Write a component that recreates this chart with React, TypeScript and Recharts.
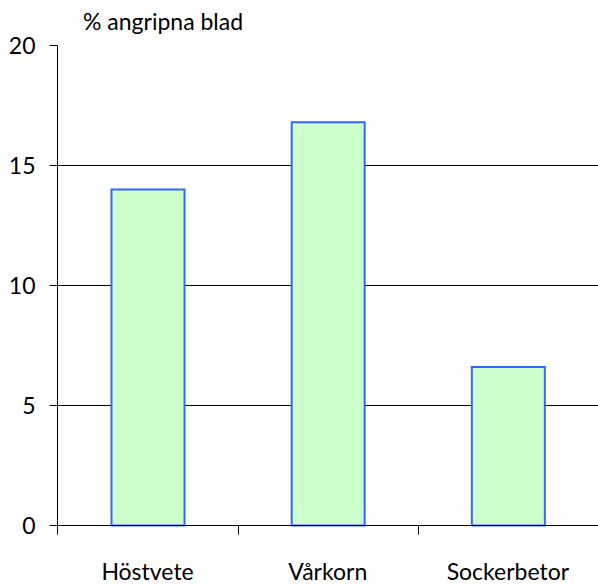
import React from "react";
import { BarChart, Bar, XAxis, YAxis, CartesianGrid } from "recharts";

const categories = ["Höstvete", "Vårkorn", "Sockerbetor"];
const values = [14, 16.8, 6.6];
const yTicks = [0, 5, 10, 15, 20];
const gridValues = [5, 10, 15];
const yTitle = "% angripna blad";

const data = categories.map((c, i) => ({ name: c, value: values[i] }));

const FONT = "Lato, 'Open Sans', sans-serif";

const CategoryTick = (props: any) => {
  const { x, y, payload, width, visibleTicksCount } = props;
  const half =
    payload && typeof payload.offset === "number" && payload.offset > 0
      ? payload.offset
      : width / (visibleTicksCount || 1) / 2;
  const bx = Math.round(x - half) + 0.5;
  return (
    <g>
      <line x1={bx} x2={bx} y1={y} y2={y + 9} stroke="#000" strokeWidth={1} />
      <text
        x={x}
        y={y + 38}
        dy="0.71em"
        textAnchor="middle"
        fill="#000"
        fontSize={23}
        fontFamily={FONT}
      >
        {payload.value}
      </text>
    </g>
  );
};

export default function App() {
  return (
    <div style={{ position: "absolute", left: 0, top: 0, width: 598, height: 584, background: "#fff" }}>
      <div
        style={{
          position: "absolute",
          left: 83,
          top: 10,
          fontFamily: FONT,
          fontSize: 23,
          lineHeight: "23px",
          color: "#000",
          whiteSpace: "nowrap",
        }}
      >
        {yTitle}
      </div>
      <BarChart
        width={598}
        height={584}
        data={data}
        margin={{ top: 45.5, right: 0, bottom: 0.5, left: 0 }}
        barCategoryGap={0}
      >
        <CartesianGrid vertical={false} stroke="#000" horizontalValues={gridValues} />
        <XAxis
          dataKey="name"
          axisLine={{ stroke: "#000" }}
          tickLine={false}
          tickSize={0}
          tickMargin={0}
          height={58}
          interval={0}
          tick={<CategoryTick />}
        />
        <YAxis
          domain={[0, 20]}
          ticks={yTicks}
          width={57.5}
          tickSize={8}
          tickMargin={14}
          axisLine={{ stroke: "#000" }}
          tickLine={{ stroke: "#000" }}
          tick={{ fill: "#000", fontSize: 23, fontFamily: FONT }}
        />
        <Bar
          dataKey="value"
          barSize={73}
          fill="#CCFFCC"
          stroke="#3366FF"
          strokeWidth={2}
          isAnimationActive={false}
        />
      </BarChart>
    </div>
  );
}
